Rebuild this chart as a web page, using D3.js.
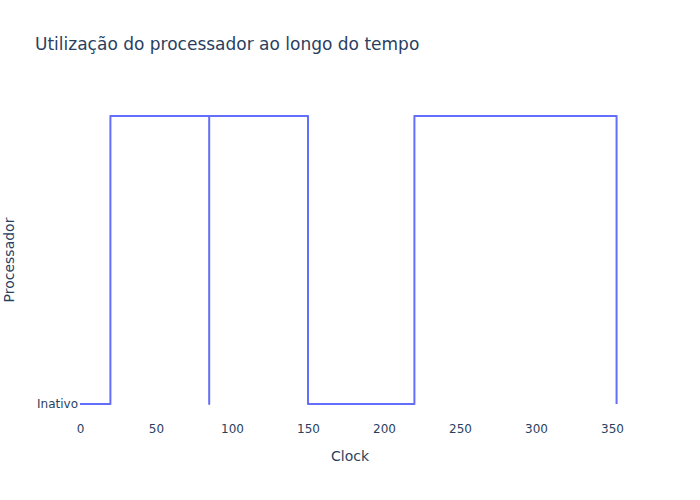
<!DOCTYPE html>
<html>
<head>
<meta charset="utf-8">
<script src="https://cdn.jsdelivr.net/npm/d3@7"></script>
<style>
  body { margin: 0; background: #fff; }
  svg { font-family: "DejaVu Sans", "Open Sans", sans-serif; }
</style>
</head>
<body>
<svg id="chart" width="700" height="500"></svg>
<script>
const titleText = "Utilização do processador ao longo do tempo";
const xTitle = "Clock";
const yTitle = "Processador";
const yCategories = ["Inativo", ""];
const clockValues = [0, 20, 85, 85, 150, 220, 353];
const stateValues = ["Inativo", "", "Inativo", "", "Inativo", "", "Inativo"];
const xTickValues = [0, 50, 100, 150, 200, 250, 300, 350];

const W = 700, H = 500;
const m = { l: 80, r: 80, t: 100, b: 80 };
const svg = d3.select("#chart");
const textColor = "#2a3f5f";

const x = d3.scaleLinear().domain([0, 355.26]).range([m.l, W - m.r]);
const yIdx = d3.scaleLinear().domain([-0.0556, 1.0556]).range([H - m.b, m.t]);
const y = c => yIdx(yCategories.indexOf(c));

const pts = clockValues.map((c, i) => [c, stateValues[i]]);
const line = d3.line().x(d => x(d[0])).y(d => y(d[1])).curve(d3.curveStepAfter);

svg.append("path")
  .datum(pts)
  .attr("d", line)
  .attr("fill", "none")
  .attr("stroke", "#636efa")
  .attr("stroke-width", 2)
  .attr("stroke-linejoin", "round");

// x axis
const xAxis = d3.axisBottom(x).tickValues(xTickValues).tickSize(0).tickPadding(0);
const gx = svg.append("g").attr("transform", `translate(0,${H - m.b})`).call(xAxis);
gx.select(".domain").remove();
gx.selectAll("text").attr("fill", textColor).attr("font-size", 12)
  .attr("font-family", "DejaVu Sans, sans-serif").attr("dy", null).attr("y", 13);

// y axis
const yAxis = d3.axisLeft(yIdx).tickValues(yCategories.map((c, i) => i))
  .tickFormat(i => yCategories[i]).tickSize(0).tickPadding(2);
const gy = svg.append("g").attr("transform", `translate(${m.l},0)`).call(yAxis);
gy.select(".domain").remove();
gy.selectAll("text").attr("fill", textColor).attr("font-size", 12)
  .attr("font-family", "DejaVu Sans, sans-serif");

// titles
svg.append("text").attr("x", 35).attr("y", 50).text(titleText)
  .attr("fill", textColor).attr("font-size", 17);
svg.append("text").attr("x", (m.l + W - m.r) / 2).attr("y", 461)
  .attr("text-anchor", "middle").text(xTitle)
  .attr("fill", textColor).attr("font-size", 14);
svg.append("text").attr("transform", `translate(14,${(m.t + H - m.b) / 2}) rotate(-90)`)
  .attr("text-anchor", "middle").text(yTitle)
  .attr("fill", textColor).attr("font-size", 14);
</script>
</body>
</html>
